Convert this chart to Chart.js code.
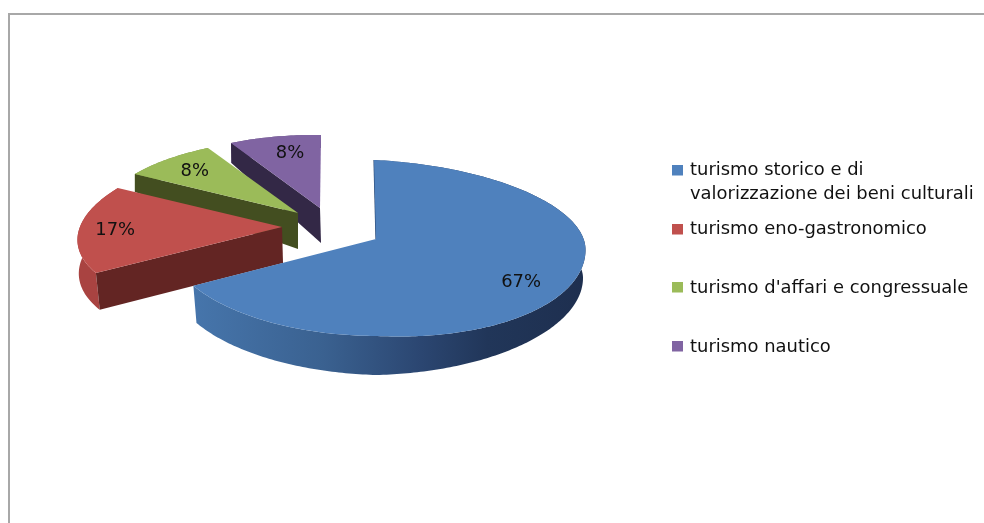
<!DOCTYPE html>
<html><head><meta charset="utf-8">
<style>
html,body{margin:0;padding:0;background:#fff;width:984px;height:523px;overflow:hidden}
#wrap{position:relative;width:984px;height:523px}
#frame{position:absolute;left:8px;top:13px;right:0;bottom:0;border-top:2px solid #a8a8a8;border-left:2px solid #a8a8a8;filter:blur(.4px)}
canvas{position:absolute;left:0;top:0;filter:blur(.45px)}
</style>
<script src="https://cdn.jsdelivr.net/npm/chart.js@4"></script>
</head><body><div id="wrap"><div id="frame"></div><canvas id="c" width="984" height="523"></canvas></div>
<script>
const categories = ["turismo storico e di valorizzazione dei beni culturali","turismo eno-gastronomico","turismo d'affari e congressuale","turismo nautico"];
const shares = [67,17,8,8];
const sliceColors = ["#4F81BD","#C0504D","#9BBB59","#8064A2"];
const cutColors = ["#2b4a76","#632523","#434e20","#332846"];
const rimColors = [null,"#a94341","#7c9647","#665082"];
// projection of each exploded 3D slice: apex + linear map of (sin, cos) of the slice angle
const topFace = [
  {x:376,y:239,P:209.5,Q:-2,Ar:10,Al:0,Bt:-79,Bb:-97},
  {x:282,y:227,P:204,Q:15.2,Ar:-6.7,Al:-6.7,Bt:-83.3,Bb:-83.3},
  {x:298,y:213,P:196.6,Q:5.4,Ar:-1.4,Al:-1.4,Bt:-75,Bb:-75},
  {x:320,y:208,P:186.5,Q:1,Ar:2.3,Al:2.3,Bt:-73,Bb:-73}
];
const baseFace = [
  {x:377,y:283,P:206,Q:0,Ar:-5,Al:5,Bt:-70,Bb:-92},
  {x:283,y:263,P:204,Q:9.3,Ar:-6.7,Al:-6.7,Bt:-85,Bb:-85},
  {x:298,y:249,P:196.6,Q:5.4,Ar:10.4,Al:10.4,Bt:-90,Bb:-90},
  {x:321,y:243,P:186,Q:0,Ar:-6.6,Al:-6.6,Bt:-95,Bb:-95}
];
const drawOrder = [3,2,1,0];
const labelReachX = [0.8,0.82,0.79,0.66];
const labelReachY = [0.76,0.82,0.78,0.77];
const legendRows = [171,230,288.5,347.5];
const fontName = '"DejaVu Sans", Verdana, sans-serif';
const textStretch = 1.055;

function pt(g,th){
  const s=Math.sin(th),c=Math.cos(th);
  return [g.x+g.P*s+g.Q*c, g.y+(s>=0?g.Ar:g.Al)*s+(c>=0?g.Bt:g.Bb)*c];
}
function trace(ctx,g,a,b,first){
  const n=Math.max(8,Math.ceil(Math.abs(b-a)*60));
  for(let i=0;i<=n;i++){
    const p=pt(g,a+(b-a)*i/n);
    if(i===0&&first)ctx.moveTo(p[0],p[1]);else ctx.lineTo(p[0],p[1]);
  }
}
function wideText(ctx,t,x,y,k){
  ctx.save();ctx.translate(x,y);ctx.scale(k,1);ctx.fillText(t,0,0);ctx.restore();
}
const pie3d={
  id:'pie3d',
  beforeDatasetDraw(chart,args){
    const ctx=chart.ctx, arcs=chart.getDatasetMeta(args.index).data;
    drawOrder.forEach(i=>{
      const arc=arcs[i], a=arc.startAngle+Math.PI/2, b=arc.endAngle+Math.PI/2;
      const T=topFace[i], B=baseFace[i];
      // outer wall
      ctx.beginPath();trace(ctx,T,a,b,true);trace(ctx,B,b,a,false);ctx.closePath();
      if(i===0){
        const gr=ctx.createLinearGradient(195,0,585,0);
        gr.addColorStop(0,'#4675ab');gr.addColorStop(.33,'#3a6190');gr.addColorStop(.58,'#2b4671');gr.addColorStop(.75,'#213659');gr.addColorStop(1,'#1e2f4f');
        ctx.fillStyle=gr;
      } else ctx.fillStyle=rimColors[i];
      ctx.fill();
      // cut face at the slice start
      const p1=pt(T,a),p2=pt(B,a);
      ctx.beginPath();ctx.moveTo(T.x,T.y);ctx.lineTo(p1[0],p1[1]);ctx.lineTo(p2[0],p2[1]);ctx.lineTo(B.x,B.y);ctx.closePath();
      ctx.fillStyle=cutColors[i];ctx.fill();
      if(i===0){ctx.strokeStyle=cutColors[i];ctx.lineWidth=1.2;ctx.beginPath();ctx.moveTo(T.x,T.y);ctx.lineTo(p1[0],p1[1]);ctx.stroke();}
      // top face
      ctx.beginPath();ctx.moveTo(T.x,T.y);trace(ctx,T,a,b,false);ctx.closePath();
      ctx.fillStyle=arc.options.backgroundColor;ctx.fill();
    });
    return false;
  },
  afterDraw(chart){
    const ctx=chart.ctx, arcs=chart.getDatasetMeta(0).data, vals=chart.data.datasets[0].data;
    const sum=vals.reduce((p,v)=>p+v,0);
    ctx.save();
    ctx.fillStyle='#111';ctx.textAlign='center';ctx.textBaseline='middle';
    ctx.font='17px '+fontName;
    arcs.forEach((arc,i)=>{
      const m=(arc.startAngle+arc.endAngle)/2+Math.PI/2, g=topFace[i], p=pt(g,m);
      const x=g.x+(p[0]-g.x)*labelReachX[i], y=g.y+(p[1]-g.y)*labelReachY[i];
      wideText(ctx,Math.round(vals[i]/sum*100)+'%',x,y,textStretch);
    });
    // legend
    ctx.textAlign='left';
    chart.data.labels.forEach((lab,i)=>{
      const y=legendRows[i];
      ctx.fillStyle=sliceColors[i];ctx.fillRect(672,Math.floor(y)-6,11,10.5);
      ctx.fillStyle='#111';
      const words=lab.split(' ');let line='',yy=y;
      words.forEach(w=>{
        const t=line?line+' '+w:w;
        if(ctx.measureText(t).width>278){wideText(ctx,line,690,yy,textStretch);yy+=24;line=w;}else line=t;
      });
      wideText(ctx,line,690,yy,textStretch);
    });
    ctx.restore();
  }
};
new Chart(document.getElementById('c'),{
  type:'pie',
  data:{labels:categories,datasets:[{data:shares,backgroundColor:sliceColors,borderWidth:0}]},
  options:{responsive:false,animation:false,events:[],
    layout:{padding:{left:170,right:390,top:30,bottom:60}},
    plugins:{legend:{display:false},tooltip:{enabled:false},title:{display:false}}},
  plugins:[pie3d]
});
</script></body></html>
